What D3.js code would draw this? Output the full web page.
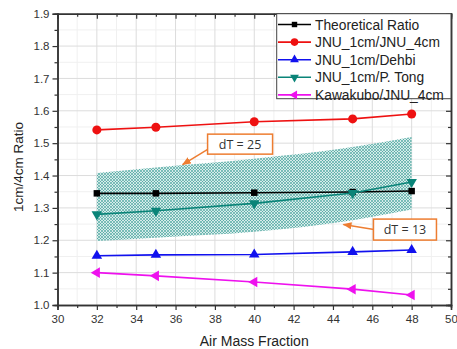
<!DOCTYPE html>
<html lang="en">
<head>
    <meta charset="utf-8">
    <style>
        body {
            margin: 0;
            padding: 0;
            background: #fff;
            font-family: "Liberation Sans", Arial, sans-serif;
        }
        svg { display: block; }
    </style>
</head>
<body>
<script src="https://cdn.jsdelivr.net/npm/d3@7"></script>
<script>
// air mass fraction
var massFraction = [32, 35, 40, 45, 48];

var seriesNames = ['Theoretical Ratio', 'JNU_1cm/JNU_4cm', 'JNU_1cm/Dehbi', 'JNU_1cm/P. Tong', 'Kawakubo/JNU_4cm'];
var theoretical = [1.345, 1.345, 1.347, 1.349, 1.352];
var jnu4cm     = [1.541, 1.549, 1.566, 1.575, 1.590];
var dehbi      = [1.152, 1.155, 1.156, 1.164, 1.170];
var pTong      = [1.280, 1.291, 1.314, 1.346, 1.380];
var kawakubo   = [1.100, 1.090, 1.071, 1.049, 1.031];

// shaded band between dT = 13 (low) and dT = 25 (high)
var bandHigh = [1.408, 1.425, 1.452, 1.488, 1.519];
var bandLow  = [1.198, 1.208, 1.226, 1.262, 1.295];

var xTicks = [30, 32, 34, 36, 38, 40, 42, 44, 46, 48, 50];
var yTicks = [1.0, 1.1, 1.2, 1.3, 1.4, 1.5, 1.6, 1.7, 1.8, 1.9];

(function() {
    var W = 457, H = 349;
    var m = {left: 57.5, right: 6, top: 13.7, bottom: 44};
    var svg = d3.select('body').append('svg').attr('width', W).attr('height', H);

    var x = d3.scaleLinear().domain([30, 50]).range([m.left, W - m.right]);
    var y = d3.scaleLinear().domain([1.0, 1.9]).range([H - m.bottom, m.top]);

    var series = [
        {name: seriesNames[0], vals: theoretical, color: '#000000', sym: d3.symbolSquare, size: 42, rot: 0},
        {name: seriesNames[1], vals: jnu4cm, color: '#ee1111', sym: d3.symbolCircle, size: 64, rot: 0},
        {name: seriesNames[2], vals: dehbi, color: '#1111ee', sym: d3.symbolTriangle, size: 48, rot: 0},
        {name: seriesNames[3], vals: pTong, color: '#0a8478', sym: d3.symbolTriangle, size: 48, rot: 180},
        {name: seriesNames[4], vals: kawakubo, color: '#ee11ee', sym: d3.symbolTriangle, size: 48, rot: -90}
    ];

    // crosshatch pattern for the band
    var defs = svg.append('defs');
    var pat = defs.append('pattern')
        .attr('id', 'hatch')
        .attr('patternUnits', 'userSpaceOnUse')
        .attr('width', 3).attr('height', 3);
    pat.append('rect').attr('width', 3).attr('height', 3).attr('fill', '#d6ecea');
    pat.append('path')
        .attr('d', 'M0,0 L3,3 M3,0 L0,3')
        .attr('stroke', '#3c9e95').attr('stroke-width', 0.6);

    defs.append('marker')
        .attr('id', 'arrow')
        .attr('viewBox', '0 0 10 10')
        .attr('refX', 9).attr('refY', 5)
        .attr('markerWidth', 6).attr('markerHeight', 6)
        .attr('orient', 'auto')
        .append('path')
        .attr('d', 'M0,1 L10,5 L0,9 Z')
        .attr('fill', '#ed7d31');

    // grid
    var g = svg.append('g');
    g.selectAll('line.minx').data(d3.range(31, 50, 2)).enter().append('line')
        .attr('x1', function(d) { return x(d); }).attr('x2', function(d) { return x(d); })
        .attr('y1', y(1.0)).attr('y2', y(1.9))
        .attr('stroke', '#f0f0f0').attr('stroke-width', 1);
    g.selectAll('line.miny').data(d3.range(1.05, 1.9, 0.1)).enter().append('line')
        .attr('y1', function(d) { return y(d); }).attr('y2', function(d) { return y(d); })
        .attr('x1', x(30)).attr('x2', x(50))
        .attr('stroke', '#f0f0f0').attr('stroke-width', 1);
    g.selectAll('line.majx').data(xTicks.slice(1, -1)).enter().append('line')
        .attr('x1', function(d) { return x(d); }).attr('x2', function(d) { return x(d); })
        .attr('y1', y(1.0)).attr('y2', y(1.9))
        .attr('stroke', '#dcdcdc').attr('stroke-width', 1);
    g.selectAll('line.majy').data(yTicks.slice(1, -1)).enter().append('line')
        .attr('y1', function(d) { return y(d); }).attr('y2', function(d) { return y(d); })
        .attr('x1', x(30)).attr('x2', x(50))
        .attr('stroke', '#dcdcdc').attr('stroke-width', 1);

    // band
    var band = massFraction.map(function(d, i) { return {x: d, lo: bandLow[i], hi: bandHigh[i]}; });
    svg.append('path')
        .datum(band)
        .attr('fill', 'url(#hatch)')
        .attr('d', d3.area()
            .curve(d3.curveMonotoneX)
            .x(function(d) { return x(d.x); })
            .y0(function(d) { return y(d.lo); })
            .y1(function(d) { return y(d.hi); }));

    // series lines and markers
    var line = d3.line()
        .x(function(d) { return x(d[0]); })
        .y(function(d) { return y(d[1]); });
    series.forEach(function(s) {
        var pts = massFraction.map(function(d, i) { return [d, s.vals[i]]; });
        svg.append('path').datum(pts)
            .attr('fill', 'none').attr('stroke', s.color).attr('stroke-width', 1.6)
            .attr('d', line);
        svg.selectAll(null).data(pts).enter().append('path')
            .attr('d', d3.symbol().type(s.sym).size(s.size))
            .attr('transform', function(d) { return 'translate(' + x(d[0]) + ',' + y(d[1]) + ') rotate(' + s.rot + ')'; })
            .attr('fill', s.color);
    });

    // axes
    var axisColor = '#333';
    var bottom = svg.append('g').attr('transform', 'translate(0,' + y(1.0) + ')')
        .call(d3.axisBottom(x).tickValues(xTicks).tickSize(5).tickFormat(d3.format('d')));
    var left = svg.append('g').attr('transform', 'translate(' + x(30) + ',0)')
        .call(d3.axisLeft(y).tickValues(yTicks).tickSize(5).tickFormat(d3.format('.1f')));
    var top = svg.append('g').attr('transform', 'translate(0,' + y(1.9) + ')')
        .call(d3.axisBottom(x).tickValues(xTicks).tickSize(5).tickFormat(''));
    var right = svg.append('g').attr('transform', 'translate(' + x(50) + ',0)')
        .call(d3.axisLeft(y).tickValues(yTicks).tickSize(5).tickFormat(''));
    // minor ticks
    svg.append('g').attr('transform', 'translate(0,' + y(1.0) + ')')
        .call(d3.axisBottom(x).tickValues(d3.range(31, 50, 2)).tickSize(3).tickFormat(''));
    svg.append('g').attr('transform', 'translate(' + x(30) + ',0)')
        .call(d3.axisLeft(y).tickValues(d3.range(1.05, 1.9, 0.1)).tickSize(3).tickFormat(''));
    svg.append('g').attr('transform', 'translate(0,' + y(1.9) + ')')
        .call(d3.axisBottom(x).tickValues(d3.range(31, 50, 2)).tickSize(3).tickFormat(''));
    svg.append('g').attr('transform', 'translate(' + x(50) + ',0)')
        .call(d3.axisLeft(y).tickValues(d3.range(1.05, 1.9, 0.1)).tickSize(3).tickFormat(''));

    svg.selectAll('.domain').attr('stroke', axisColor).attr('stroke-width', 1.5);
    svg.selectAll('.tick line').attr('stroke', axisColor).attr('stroke-width', 1.2);
    svg.selectAll('.tick text')
        .attr('fill', '#333')
        .style('font-family', '"Liberation Sans", Arial, sans-serif')
        .style('font-size', '11.5px');
    bottom.selectAll('.tick text').attr('dy', '0.9em');
    left.selectAll('.tick text').attr('x', -8);

    // axis titles
    svg.append('text')
        .attr('x', (x(30) + x(50)) / 2).attr('y', 346)
        .attr('text-anchor', 'middle')
        .attr('fill', '#222')
        .style('font-size', '14px')
        .text('Air Mass Fraction');
    svg.append('text')
        .attr('transform', 'translate(23,167) rotate(-90)')
        .attr('text-anchor', 'middle')
        .attr('fill', '#222')
        .style('font-size', '13.5px')
        .text('1cm/4cm Ratio');

    // annotations
    var notes = [
        {label: 'dT = 25', cx: 39.28, cy: 1.497, w: 65, h: 20, tx: 36.36, ty: 1.434, ax: -32, ay: 5},
        {label: 'dT = 13', cx: 47.66, cy: 1.233, w: 63, h: 21, tx: 44.53, ty: 1.249, ax: -31, ay: 0}
    ];
    notes.forEach(function(n) {
        var cx = x(n.cx), cy = y(n.cy);
        svg.append('line')
            .attr('x1', cx + n.ax).attr('y1', cy + n.ay)
            .attr('x2', x(n.tx)).attr('y2', y(n.ty))
            .attr('stroke', '#ed7d31').attr('stroke-width', 1.5)
            .attr('marker-end', 'url(#arrow)');
        svg.append('rect')
            .attr('x', cx - n.w / 2).attr('y', cy - n.h / 2)
            .attr('width', n.w).attr('height', n.h)
            .attr('fill', '#fff').attr('stroke', '#ed7d31').attr('stroke-width', 1.5);
        svg.append('text')
            .attr('x', cx).attr('y', cy + 4.5)
            .attr('text-anchor', 'middle')
            .attr('fill', '#333')
            .style('font-family', '"Open Sans", "Liberation Sans", sans-serif')
            .style('font-size', '12.5px')
            .text(n.label);
    });

    // legend
    var lg = svg.append('g');
    lg.append('rect')
        .attr('x', 276.7).attr('y', y(1.9))
        .attr('width', x(50) - 276.7).attr('height', 85)
        .attr('fill', '#fff').attr('stroke', '#444').attr('stroke-width', 1);
    var rows = lg.selectAll('g.row').data(series).enter().append('g')
        .attr('transform', function(d, i) { return 'translate(278,' + (24.5 + i * 17.6) + ')'; });
    rows.append('line')
        .attr('x1', 0).attr('x2', 33).attr('y1', 0).attr('y2', 0)
        .attr('stroke', function(d) { return d.color; }).attr('stroke-width', 1.6);
    rows.append('path')
        .attr('d', function(d) { return d3.symbol().type(d.sym).size(d.size * 0.7)(); })
        .attr('transform', function(d) { return 'translate(16.5,0) rotate(' + d.rot + ')'; })
        .attr('fill', function(d) { return d.color; });
    rows.append('text')
        .attr('x', 37).attr('y', 5)
        .attr('fill', '#222')
        .style('font-size', '13.8px')
        .text(function(d) { return d.name; });
})();
</script>
</body>
</html>
